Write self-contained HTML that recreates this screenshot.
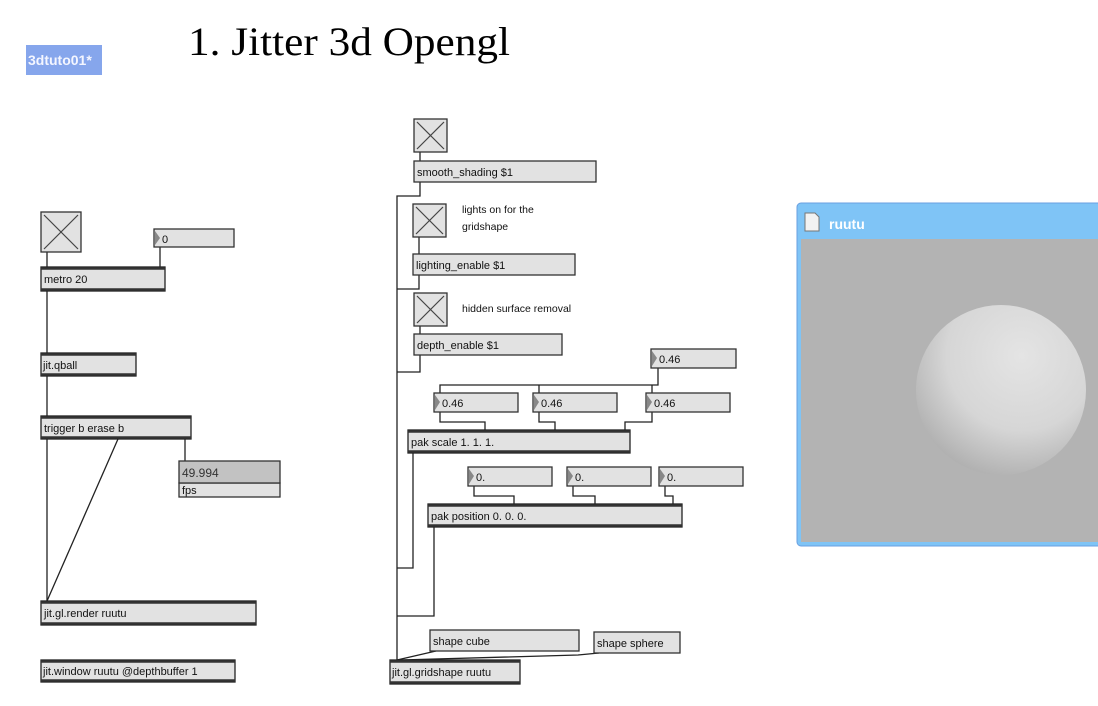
<!DOCTYPE html>
<html><head><meta charset="utf-8"><style>
html,body{margin:0;padding:0;background:#fff;}
svg{display:block;}
text{font-family:"Liberation Sans",Arial,sans-serif;font-size:11px;fill:#111;}
</style></head><body>
<svg width="1098" height="706" viewBox="0 0 1098 706" xmlns="http://www.w3.org/2000/svg">
<defs>
<radialGradient id="sph" cx="0.62" cy="0.3" r="0.8">
<stop offset="0" stop-color="#e4e4e4"/><stop offset="0.55" stop-color="#d6d6d6"/><stop offset="1" stop-color="#a8a8a8"/>
</radialGradient>
</defs>
<!-- tab & title -->
<rect x="26" y="45" width="76" height="30" fill="#86a6ec"/>
<text x="28" y="65" style="font-size:14px;font-weight:bold;fill:#f4f6ff">3dtuto01*</text>
<text x="188" y="55" style="font-family:'Liberation Serif',serif;font-size:40px;fill:#000" textLength="322" lengthAdjust="spacingAndGlyphs">1. Jitter 3d Opengl</text>

<g stroke="#222" stroke-width="1.3" fill="none">
<!-- left connections -->
<line x1="47" y1="252" x2="47" y2="601"/>
<line x1="160" y1="247" x2="160" y2="267"/>
<line x1="118" y1="439" x2="47" y2="601"/>
<line x1="185" y1="439" x2="185" y2="461"/>
<!-- middle connections -->
<line x1="420" y1="152" x2="420" y2="161"/>
<line x1="419" y1="237" x2="419" y2="254"/>
<line x1="420" y1="326" x2="420" y2="334"/>
<polyline points="420,182 420,196 397,196 397,660"/>
<polyline points="419,275 419,289 397,289"/>
<polyline points="420,355 420,372 397,372"/>
<polyline points="413,453 413,568 397,568"/>
<polyline points="434,527 434,616 397,616"/>
<polyline points="658,368 658,385 440,385 440,393"/>
<line x1="539" y1="385" x2="539" y2="393"/>
<line x1="652" y1="385" x2="652" y2="393"/>
<polyline points="440,412 440,422 485,422 485,430"/>
<polyline points="539,412 539,422 555,422 555,430"/>
<polyline points="652,412 652,422 625,422 625,430"/>
<polyline points="474,486 474,496 514,496 514,504"/>
<polyline points="573,486 573,496 595,496 595,504"/>
<polyline points="665,486 665,496 673,496 673,504"/>
<polyline points="436,651 397,660"/>
<polyline points="599,653 578,655 400,660"/>
</g>

<!-- toggles -->
<g fill="#e2e2e2" stroke="#333" stroke-width="1.3">
<rect x="41" y="212" width="40" height="40"/>
<rect x="414" y="119" width="33" height="33"/>
<rect x="413" y="204" width="33" height="33"/>
<rect x="414" y="293" width="33" height="33"/>
</g>
<g stroke="#444" stroke-width="1.2">
<line x1="44" y1="215" x2="78" y2="249"/><line x1="78" y1="215" x2="44" y2="249"/>
<line x1="417" y1="122" x2="444" y2="149"/><line x1="444" y1="122" x2="417" y2="149"/>
<line x1="416" y1="207" x2="443" y2="234"/><line x1="443" y1="207" x2="416" y2="234"/>
<line x1="417" y1="296" x2="444" y2="323"/><line x1="444" y1="296" x2="417" y2="323"/>
</g>

<!-- message/number boxes -->
<g fill="#e2e2e2" stroke="#333" stroke-width="1.3">
<rect x="154" y="229" width="80" height="18"/>
<rect x="414" y="161" width="182" height="21"/>
<rect x="413" y="254" width="162" height="21"/>
<rect x="414" y="334" width="148" height="21"/>
<rect x="651" y="349" width="85" height="19"/>
<rect x="434" y="393" width="84" height="19"/>
<rect x="533" y="393" width="84" height="19"/>
<rect x="646" y="393" width="84" height="19"/>
<rect x="468" y="467" width="84" height="19"/>
<rect x="567" y="467" width="84" height="19"/>
<rect x="659" y="467" width="84" height="19"/>
<rect x="430" y="630" width="149" height="21"/>
<rect x="594" y="632" width="86" height="21"/>
<rect x="179" y="483" width="101" height="14"/>
</g>
<rect x="179" y="461" width="101" height="22" fill="#c2c2c2" stroke="#333" stroke-width="1.3"/>
<!-- number triangles -->
<g fill="#888">
<polygon points="155,231 160,238 155,245"/>
<polygon points="652,351 657,358 652,366"/>
<polygon points="435,395 440,402 435,410"/>
<polygon points="534,395 539,402 534,410"/>
<polygon points="647,395 652,402 647,410"/>
<polygon points="469,469 474,476 469,484"/>
<polygon points="568,469 573,476 568,484"/>
<polygon points="660,469 665,476 660,484"/>
</g>

<!-- objects -->
<g fill="#e2e2e2" stroke="#222" stroke-width="1.3">
<rect x="41" y="267" width="124" height="24"/>
<rect x="41" y="353" width="95" height="23"/>
<rect x="41" y="416" width="150" height="23"/>
<rect x="41" y="601" width="215" height="24"/>
<rect x="41" y="660" width="194" height="22"/>
<rect x="408" y="430" width="222" height="23"/>
<rect x="428" y="504" width="254" height="23"/>
<rect x="390" y="660" width="130" height="24"/>
</g>
<g stroke="#333" stroke-width="2.5">
<line x1="41" y1="268.5" x2="165" y2="268.5"/><line x1="41" y1="289.5" x2="165" y2="289.5"/>
<line x1="41" y1="354.5" x2="136" y2="354.5"/><line x1="41" y1="374.5" x2="136" y2="374.5"/>
<line x1="41" y1="417.5" x2="191" y2="417.5"/><line x1="41" y1="437.5" x2="191" y2="437.5"/>
<line x1="41" y1="602.5" x2="256" y2="602.5"/><line x1="41" y1="623.5" x2="256" y2="623.5"/>
<line x1="41" y1="661.5" x2="235" y2="661.5"/><line x1="41" y1="680.5" x2="235" y2="680.5"/>
<line x1="408" y1="431.5" x2="630" y2="431.5"/><line x1="408" y1="451.5" x2="630" y2="451.5"/>
<line x1="428" y1="505.5" x2="682" y2="505.5"/><line x1="428" y1="525.5" x2="682" y2="525.5"/>
<line x1="390" y1="661.5" x2="520" y2="661.5"/><line x1="390" y1="682.5" x2="520" y2="682.5"/>
</g>

<!-- labels -->
<text x="44" y="283">metro 20</text>
<text x="43" y="369">jit.qball</text>
<text x="44" y="432">trigger b erase b</text>
<text x="44" y="617">jit.gl.render ruutu</text>
<text x="43" y="675">jit.window ruutu @depthbuffer 1</text>
<text x="162" y="243">0</text>
<text x="182" y="477" style="font-size:12px;fill:#333">49.994</text>
<text x="182" y="494">fps</text>
<text x="417" y="176">smooth_shading $1</text>
<text x="416" y="269">lighting_enable $1</text>
<text x="417" y="349">depth_enable $1</text>
<text x="462" y="213" style="font-size:10.5px">lights on for the</text>
<text x="462" y="230" style="font-size:10.5px">gridshape</text>
<text x="462" y="312" style="font-size:10.5px">hidden surface removal</text>
<text x="659" y="363">0.46</text>
<text x="442" y="407">0.46</text>
<text x="541" y="407">0.46</text>
<text x="654" y="407">0.46</text>
<text x="411" y="446">pak scale 1. 1. 1.</text>
<text x="476" y="481">0.</text>
<text x="575" y="481">0.</text>
<text x="667" y="481">0.</text>
<text x="431" y="520">pak position 0. 0. 0.</text>
<text x="433" y="645">shape cube</text>
<text x="597" y="647">shape sphere</text>
<text x="392" y="676">jit.gl.gridshape ruutu</text>

<!-- window -->
<rect x="797" y="203" width="310" height="343" rx="4" fill="#7fc4f6" stroke="#6a9fe0"/>
<rect x="801" y="239" width="300" height="303" fill="#b3b3b3"/>
<path d="M805 213 h10 l4 4 v14 h-14 z" fill="#f2f2f2" stroke="#777"/>
<text x="829" y="229" style="font-size:14px;font-weight:bold;fill:#fff">ruutu</text>
<circle cx="1001" cy="390" r="85" fill="url(#sph)"/>
</svg>
</body></html>
